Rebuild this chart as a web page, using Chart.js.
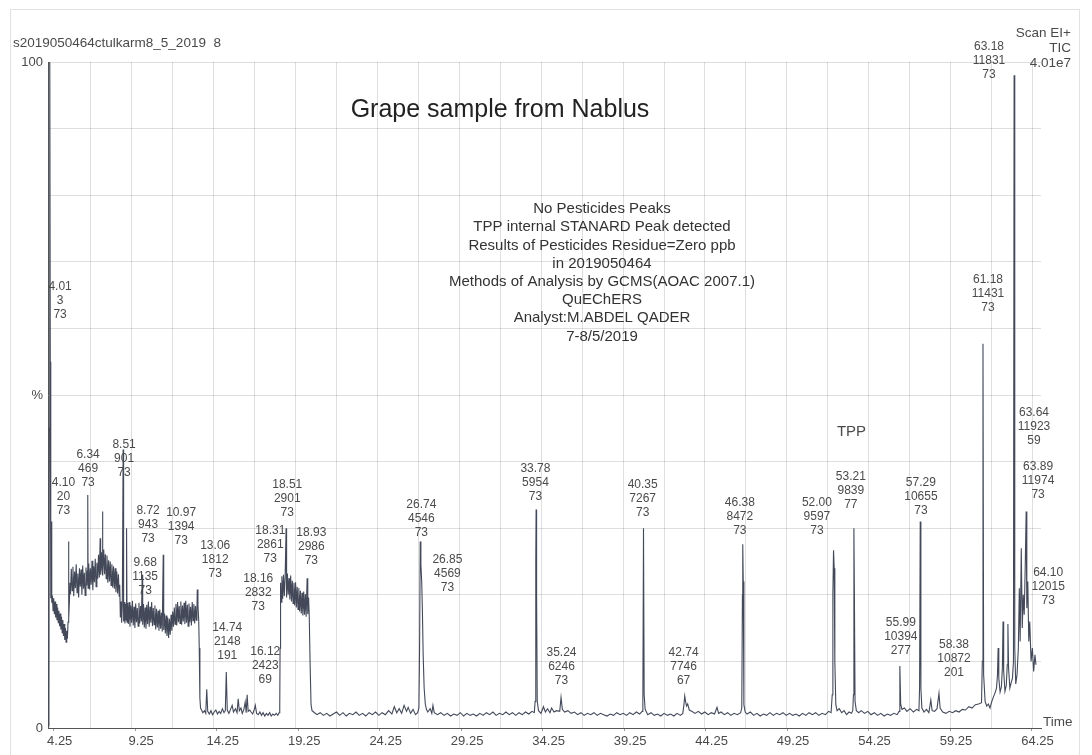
<!DOCTYPE html>
<html>
<head>
<meta charset="utf-8">
<script src="https://cdn.jsdelivr.net/npm/chart.js@4.4.1/dist/chart.umd.min.js"></script>
<style>
  html, body { margin: 0; padding: 0; background: #fff; }
  #wrap { position: relative; width: 1092px; height: 755px; overflow: hidden; }
  #paper { position: absolute; left: 10px; top: 9px; width: 1068px; height: 800px; border: 1px solid #e2e2e2; }
  canvas { position: absolute; left: 0; top: 0; }
</style>
</head>
<body>
<div id="wrap">
  <div id="paper"></div>
  <canvas id="tic" width="1092" height="755"></canvas>
</div>
<script>
// x axis labels (retention time, min)
const timeTicks = [4.25, 9.25, 14.25, 19.25, 24.25, 29.25, 34.25, 39.25, 44.25, 49.25, 54.25, 59.25, 64.25];

// TIC trace, [time, % of 4.01e7]
const solventFront = [[3.91,0.4],[3.95,0.6],[3.98,45],[4.01,100],[4.04,55],[4.06,22],[4.08,19.5],[4.10,31],[4.12,20.5],[4.14,18.8]];
const earlyDip = [[4.17,19.9],[4.21,17.6],[4.25,19.5],[4.29,17.1],[4.33,19.0],[4.37,16.6],[4.41,18.6],[4.45,16.2],[4.49,18.1],[4.53,15.8],[4.57,17.6],[4.61,15.3],[4.65,17.2],[4.69,14.8],[4.73,16.7],[4.77,14.3],[4.81,16.2],[4.85,13.8],[4.89,15.6],[4.93,13.2],[4.97,15.0],[5.01,12.9],[5.05,14.6],[5.09,13.4],[5.13,15.9],[5.16,28.0],[5.18,16.5],[5.22,19.4],[5.25,21.8]];
const firstHump = [[5.28,20.1],[5.33,23.9],[5.38,20.6],[5.43,24.2],[5.48,19.8],[5.53,23.5],[5.58,21.0],[5.63,24.6],[5.68,20.3],[5.73,23.2],[5.78,19.6],[5.83,24.0],[5.88,21.2],[5.93,23.8],[5.98,20.0],[6.03,24.4],[6.08,20.9],[6.13,23.3],[6.18,19.9],[6.23,24.1],[6.28,21.4],[6.32,23.6],[6.34,35.0],[6.36,21.0],[6.40,24.7],[6.45,20.8],[6.50,24.0],[6.55,21.5],[6.60,25.1],[6.65,20.7],[6.70,24.3],[6.75,21.9],[6.80,25.4],[6.85,21.2],[6.90,24.8],[6.95,22.4],[7.00,26.0],[7.05,22.6],[7.10,28.5],[7.13,23.0],[7.18,26.4],[7.22,23.8],[7.24,32.5],[7.27,22.9],[7.32,26.8],[7.37,23.1],[7.42,26.1],[7.47,22.4],[7.52,25.9],[7.57,21.8],[7.62,25.2],[7.67,22.0],[7.72,25.0],[7.77,21.4],[7.82,24.6],[7.87,21.1],[7.92,24.3],[7.97,20.9],[8.02,24.0],[8.07,20.4],[8.12,23.5],[8.17,20.2],[8.22,23.1],[8.27,19.8],[8.30,21.5],[8.34,16.6],[8.38,19.0],[8.42,15.8],[8.46,18.4],[8.51,41.8],[8.54,16.0],[8.58,18.9],[8.62,15.7],[8.66,18.6],[8.70,16.2],[8.72,30.0],[8.75,15.9],[8.79,18.8]];
const secondHump = [[8.83,15.6],[8.88,18.9],[8.93,15.2],[8.98,18.4],[9.03,15.8],[9.08,19.1],[9.13,15.4],[9.18,18.2],[9.23,15.0],[9.28,18.7],[9.33,15.9],[9.38,18.0],[9.43,15.3],[9.48,18.8],[9.53,15.7],[9.58,18.3],[9.63,16.0],[9.68,23.0],[9.71,15.5],[9.76,18.6],[9.81,15.1],[9.86,18.1],[9.91,14.9],[9.96,18.5],[10.01,15.6],[10.06,19.0],[10.11,15.2],[10.16,18.2],[10.21,15.8],[10.26,18.9],[10.31,15.3],[10.36,18.0],[10.41,15.5],[10.46,18.4],[10.51,14.8],[10.56,17.9],[10.61,15.1],[10.66,17.6],[10.71,14.6],[10.76,17.8],[10.81,14.9],[10.86,17.3],[10.91,14.5],[10.97,26.0],[11.00,14.7],[11.05,17.2],[11.10,14.2],[11.15,16.9],[11.20,13.8],[11.25,16.6],[11.30,13.5],[11.35,16.4],[11.40,14.0],[11.45,17.0],[11.50,14.6],[11.55,17.5],[11.60,15.2],[11.65,18.1],[11.70,15.6],[11.75,18.6],[11.80,15.4],[11.85,18.9],[11.90,15.9],[11.95,18.3],[12.00,15.7],[12.05,19.0],[12.10,15.5],[12.15,18.4],[12.20,16.0],[12.25,18.8],[12.30,15.6],[12.35,19.1],[12.40,15.8],[12.45,18.5],[12.50,15.3],[12.55,18.7],[12.60,15.9],[12.65,18.2],[12.70,15.4],[12.75,18.9],[12.80,16.1],[12.85,18.6],[12.90,15.7],[12.95,18.3],[13.00,16.2],[13.04,18.0],[13.06,20.8],[13.10,18.5],[13.15,16.0],[13.18,12.0],[13.22,4.5],[13.26,3.0]];
const quietA = [[13.30,2.8],[13.40,2.3],[13.50,2.6],[13.58,2.2],[13.64,5.8],[13.70,2.5],[13.80,2.1],[13.90,2.6],[14.00,2.0],[14.10,2.4],[14.20,2.7],[14.30,2.1],[14.40,2.5],[14.50,2.2],[14.60,2.9],[14.70,2.3],[14.78,2.6],[14.84,8.4],[14.90,2.7],[15.00,2.2],[15.10,2.8],[15.20,3.4],[15.28,2.4],[15.40,2.9],[15.50,2.3],[15.57,4.4],[15.64,2.6],[15.74,3.0],[15.82,2.2],[15.92,2.8],[16.00,3.9],[16.06,2.3],[16.12,5.0],[16.18,2.5],[16.28,2.7],[16.36,2.4],[16.46,2.1],[16.56,2.8],[16.62,3.4],[16.70,2.2],[16.80,2.0],[16.90,2.4],[17.00,1.9],[17.10,2.3],[17.20,1.8],[17.30,2.2],[17.40,1.9],[17.50,2.3],[17.60,1.8],[17.70,2.1],[17.80,1.9],[17.90,2.2],[18.00,1.9],[18.08,2.3]];
const thirdHump = [[18.12,3.0],[18.14,12.0],[18.17,21.8],[18.20,18.9],[18.25,22.8],[18.30,19.4],[18.35,23.0],[18.40,19.8],[18.45,22.6],[18.51,30.0],[18.54,19.6],[18.59,23.2],[18.64,20.0],[18.69,22.5],[18.74,19.3],[18.79,22.9],[18.84,19.0],[18.89,22.1],[18.94,18.7],[18.99,21.8],[19.04,18.4],[19.09,21.9],[19.14,18.1],[19.19,21.2],[19.24,17.8],[19.29,21.0],[19.34,17.5],[19.39,20.6],[19.44,17.2],[19.49,20.3],[19.54,16.9],[19.59,20.5],[19.64,17.0],[19.69,20.1],[19.74,16.7],[19.80,22.5],[19.84,17.1],[19.89,19.6],[19.93,16.8],[19.98,10.0],[20.04,3.5],[20.10,2.6]];
const quietB = [[20.20,2.4],[20.40,2.0],[20.60,2.3],[20.80,1.9],[21.00,2.2],[21.20,1.8],[21.40,2.1],[21.60,2.4],[21.80,1.9],[22.00,2.3],[22.20,1.8],[22.40,2.2],[22.60,2.0],[22.80,2.4],[23.00,1.9],[23.20,2.2],[23.40,1.8],[23.60,2.3],[23.80,2.0],[24.00,2.4],[24.20,1.9],[24.40,2.3],[24.60,2.0],[24.80,2.6],[25.00,2.1],[25.15,3.2],[25.30,2.3],[25.45,2.9],[25.60,2.2],[25.75,3.4],[25.90,2.5],[26.00,3.1],[26.15,2.2],[26.30,2.8],[26.45,2.0],[26.58,2.3]];
const peak2674 = [[26.66,3.0],[26.70,12.0],[26.74,28.0],[26.78,24.5],[26.83,22.0],[26.87,18.0],[26.92,11.0],[26.98,6.0],[27.05,3.6],[27.12,2.8]];
const quietC = [[27.20,2.4],[27.35,2.9],[27.45,2.2],[27.52,3.4],[27.60,2.3],[27.80,2.0],[28.00,2.3],[28.20,1.9],[28.40,2.2],[28.60,1.8],[28.80,2.1],[29.00,1.9],[29.20,2.3],[29.40,1.8],[29.60,2.2],[29.80,1.9],[30.00,2.1],[30.20,1.8],[30.40,2.2],[30.60,1.9],[30.80,2.3],[31.00,2.0],[31.20,2.4],[31.40,1.9],[31.60,2.2],[31.80,2.0],[32.00,2.4],[32.20,2.0],[32.40,2.3],[32.60,1.9],[32.80,2.3],[33.00,2.0],[33.20,2.4],[33.40,2.1],[33.60,2.5],[33.74,2.3]];
const peak3378 = [[33.79,4.0],[33.83,25.0],[33.85,32.8],[33.88,20.0],[33.92,4.0]];
const quietD = [[34.00,2.6],[34.15,2.2],[34.30,3.2],[34.42,2.4],[34.55,2.9],[34.70,2.3],[34.80,3.0],[34.95,2.4],[35.10,2.6],[35.30,2.5],[35.38,4.6],[35.46,2.8],[35.60,2.4],[35.80,2.6],[36.00,2.2],[36.20,2.4],[36.40,2.0],[36.60,2.3],[36.80,1.9],[37.00,2.2],[37.20,2.0],[37.40,2.3],[37.60,1.9],[37.80,2.2],[38.00,2.0],[38.20,1.8],[38.40,2.1],[38.60,1.9],[38.80,2.3],[39.00,2.0],[39.20,2.2],[39.40,1.9],[39.60,2.3],[39.80,2.0],[40.00,2.4],[40.20,2.1],[40.36,2.5]];
const peak4035 = [[40.40,4.0],[40.44,30.0],[40.48,5.0],[40.54,2.8]];
const quietE = [[40.70,2.0],[40.90,2.3],[41.10,1.9],[41.30,2.1],[41.50,1.8],[41.70,2.2],[41.90,1.9],[42.10,2.1],[42.30,1.8],[42.50,2.2],[42.70,1.9],[42.85,2.2],[42.92,3.5],[42.97,4.8],[43.02,4.0],[43.08,3.3],[43.15,3.6],[43.25,2.7],[43.40,2.5],[43.60,2.2],[43.80,2.5],[44.00,2.1],[44.20,2.4],[44.40,2.0],[44.60,2.3],[44.80,2.1],[44.95,3.1],[45.05,2.2],[45.20,2.4],[45.40,2.0],[45.60,2.3],[45.80,1.9],[46.00,2.2],[46.20,2.0],[46.40,2.3]];
const peak4638 = [[46.47,3.0],[46.51,20.0],[46.53,27.6],[46.56,22.0],[46.60,3.5],[46.68,2.4]];
const quietF = [[46.80,2.1],[47.00,2.4],[47.20,1.9],[47.40,2.2],[47.60,1.8],[47.80,2.1],[48.00,1.9],[48.20,2.3],[48.40,1.9],[48.60,2.2],[48.80,2.0],[49.00,2.3],[49.20,1.9],[49.40,2.2],[49.60,1.9],[49.80,2.1],[50.00,1.8],[50.20,2.2],[50.40,1.9],[50.60,2.3],[50.80,2.0],[51.00,2.3],[51.20,1.9],[51.40,2.2],[51.60,2.0],[51.80,2.5],[51.95,2.3]];
const tppRegion = [[52.02,5.0],[52.06,20.0],[52.10,26.7],[52.14,24.0],[52.18,10.0],[52.24,3.5],[52.32,2.6],[52.45,2.9],[52.60,2.3],[52.75,2.6],[52.90,2.0],[53.05,2.4],[53.20,2.2],[53.28,2.6],[53.32,5.0],[53.35,30.0],[53.38,20.0],[53.42,4.0],[53.50,2.6]];
const quietG = [[53.65,2.3],[53.80,2.6],[54.00,2.2],[54.20,2.5],[54.40,2.0],[54.60,2.3],[54.80,1.9],[55.00,2.2],[55.20,1.8],[55.40,2.1],[55.60,1.9],[55.80,2.2],[56.00,2.0],[56.12,2.5],[56.17,9.3],[56.22,3.6],[56.30,2.8],[56.45,3.0],[56.60,2.5],[56.80,2.9],[57.00,2.4],[57.20,2.8],[57.34,2.6],[57.38,6.0],[57.42,31.0],[57.46,6.0],[57.52,3.0]];
const lateRise = [[57.65,2.4],[57.80,2.8],[57.95,2.3],[58.07,4.2],[58.15,2.6],[58.30,2.5],[58.45,2.9],[58.57,5.2],[58.64,3.0],[58.80,2.4],[59.00,2.2],[59.20,2.5],[59.40,2.3],[59.60,2.6],[59.80,2.4],[60.00,2.8],[60.20,2.7],[60.40,3.2],[60.60,3.0],[60.80,3.5],[61.00,3.6],[61.18,3.8],[61.23,10.0],[61.27,57.7],[61.31,8.0],[61.40,4.0],[61.50,3.3],[61.60,3.6],[61.70,3.0],[61.80,3.9],[61.90,4.6],[62.00,5.2],[62.10,6.0]];
const columnBleed = [[62.16,8.0],[62.20,12.0],[62.24,7.5],[62.32,5.4],[62.40,6.2],[62.46,9.0],[62.50,16.0],[62.54,8.5],[62.62,5.5],[62.70,6.4],[62.76,9.5],[62.80,15.6],[62.84,9.0],[62.92,6.0],[63.00,6.8],[63.08,7.5],[63.14,10.0],[63.18,98.0],[63.22,12.0],[63.28,6.6],[63.36,8.0],[63.44,12.0],[63.50,21.0],[63.55,13.0],[63.62,27.0],[63.68,15.0],[63.74,20.0],[63.80,17.0],[63.86,24.0],[63.92,32.5],[63.96,18.0],[64.02,22.0],[64.08,13.0],[64.14,16.0],[64.22,10.0],[64.30,12.0],[64.38,8.5],[64.46,11.0],[64.52,9.5]];

const trace = [].concat(solventFront, earlyDip, firstHump, secondHump, quietA, thirdHump, quietB,
  peak2674, quietC, peak3378, quietD, peak4035, quietE, peak4638, quietF, tppRegion, quietG, lateRise, columnBleed);

// peak annotations: RT / scan / base mass
const peakTimes  = ['4.01','4.10','6.34','8.51','8.72','9.68','10.97','13.06','14.74','16.12','18.16','18.31','18.51','18.93','26.74','26.85','33.78','35.24','40.35','42.74','46.38','52.00','53.21','55.99','57.29','58.38','61.18','63.18','63.64','63.89','64.10'];
const peakScans  = ['3','20','469','901','943','1135','1394','1812','2148','2423','2832','2861','2901','2986','4546','4569','5954','6246','7267','7746','8472','9597','9839','10394','10655','10872','11431','11831','11923','11974','12015'];
const peakMasses = ['73','73','73','73','73','73','73','73','191','69','73','73','73','73','73','73','73','73','73','67','73','73','77','277','73','201','73','73','59','73','73'];
// where each label sits (time, %) so it does not overlap
const labelAtTime  = [4.64,4.85,6.36,8.57,10.04,9.86,12.07,14.16,14.90,17.23,16.80,17.54,18.58,20.06,26.81,28.41,33.81,35.41,40.39,42.90,46.35,51.08,53.16,56.23,57.46,59.49,61.58,61.64,64.40,64.65,65.27];
const labelAtLevel = [66.2,36.8,41.0,42.6,32.6,24.8,32.4,27.3,15.0,11.4,22.4,29.7,36.5,29.3,33.5,25.2,39.0,11.3,36.5,11.3,33.9,33.9,37.7,15.8,36.9,12.5,67.3,102.3,47.4,39.2,23.3];

const noteLines = ['No Pesticides Peaks', 'TPP internal STANARD Peak detected', 'Results of Pesticides Residue=Zero ppb',
  'in 2019050464', 'Methods of Analysis by GCMS(AOAC 2007.1)', 'QuEChERS', 'Analyst:M.ABDEL QADER', '7-8/5/2019'];

const FONT = '"Liberation Sans", Arial, sans-serif';
const INK = '#4a4a4a';

const textLayer = {
  id: 'textLayer',
  afterDraw(chart) {
    const ctx = chart.ctx;
    const xs = chart.scales.x, ys = chart.scales.y;
    ctx.save();
    ctx.fillStyle = INK;
    ctx.textBaseline = 'middle';

    // peak labels
    ctx.textAlign = 'center';
    ctx.font = '12px ' + FONT;
    peakTimes.forEach((rt, i) => {
      const px = xs.getPixelForValue(labelAtTime[i]);
      const py = ys.getPixelForValue(labelAtLevel[i]);
      ctx.fillText(rt, px, py);
      ctx.fillText(peakScans[i], px, py + 14);
      ctx.fillText(peakMasses[i], px, py + 28);
    });

    // header texts
    ctx.textAlign = 'left';
    ctx.font = '13.5px ' + FONT;
    ctx.fillText('s2019050464ctulkarm8_5_2019  8', 13, 43);
    ctx.textAlign = 'right';
    ctx.fillText('Scan EI+', 1071, 33);
    ctx.fillText('TIC', 1071, 48);
    ctx.fillText('4.01e7', 1071, 63);
    ctx.textAlign = 'left';
    ctx.fillText('Time', 1043, 722);

    // title and notes
    ctx.textAlign = 'center';
    ctx.fillStyle = '#222';
    ctx.font = '25px ' + FONT;
    ctx.fillText('Grape sample from Nablus', 500, 110);
    ctx.fillStyle = '#333';
    ctx.font = '15px ' + FONT;
    noteLines.forEach((t, i) => ctx.fillText(t, 602, 209 + i * 18.2));
    ctx.fillStyle = INK;
    ctx.fillText('TPP', xs.getPixelForValue(53.2), 432);
    ctx.restore();
  }
};

const gridStart = 4.02, gridStep = 2.512;

new Chart(document.getElementById('tic'), {
  type: 'line',
  data: {
    datasets: [{
      data: trace.map(([t, v]) => ({ x: t, y: v })),
      borderColor: '#434959',
      borderWidth: 1.1,
      pointRadius: 0,
      tension: 0,
      fill: false
    }]
  },
  options: {
    responsive: false,
    animation: false,
    layout: { padding: { top: 62, right: 51, left: 0, bottom: 0 } },
    plugins: { legend: { display: false }, tooltip: { enabled: false } },
    scales: {
      x: {
        type: 'linear', min: 3.90, max: 64.83, position: 'bottom',
        afterBuildTicks: s => { s.ticks = timeTicks.map(v => ({ value: v })); },
        afterFit: s => { s.height = 27; },
        ticks: {
          autoSkip: false, maxRotation: 0, padding: 3, labelOffset: 6,
          color: INK, font: { family: FONT, size: 13 },
          callback: v => v.toFixed(2)
        },
        grid: { drawOnChartArea: false, tickLength: 3, color: '#999' },
        border: { display: true, color: '#555', width: 1 }
      },
      xg: {
        type: 'linear', min: 3.90, max: 64.83, position: 'top',
        afterBuildTicks: s => {
          const t = [];
          for (let k = 0; k <= 24; k++) t.push({ value: gridStart + k * gridStep });
          s.ticks = t;
        },
        afterFit: s => { s.height = 0; },
        ticks: { display: false },
        grid: { color: 'rgba(0,0,0,0.13)', drawTicks: false },
        border: { display: false }
      },
      y: {
        min: 0, max: 100,
        afterFit: s => { s.width = 48; },
        ticks: {
          stepSize: 10, padding: 5, color: INK, font: { family: FONT, size: 13 },
          callback: v => (v === 100 ? '100' : v === 50 ? '%' : v === 0 ? '0' : '')
        },
        grid: { color: 'rgba(0,0,0,0.13)', drawTicks: false },
        border: { display: true, color: '#555', width: 1 }
      }
    }
  },
  plugins: [textLayer]
});
</script>
</body>
</html>
